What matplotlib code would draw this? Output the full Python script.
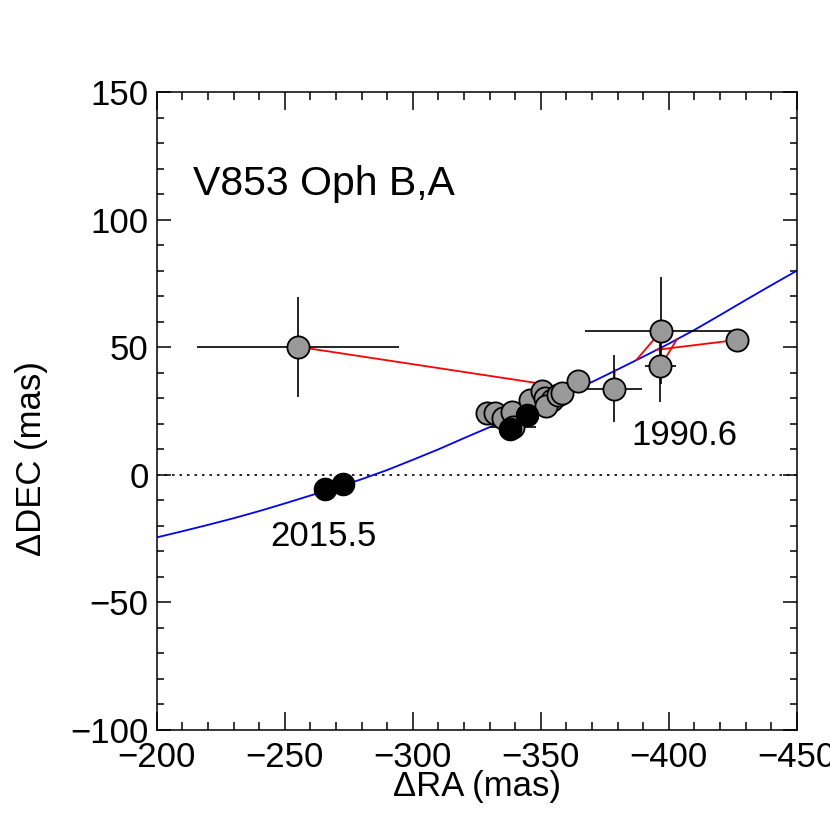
import matplotlib
matplotlib.use("Agg")
import matplotlib.pyplot as plt
from matplotlib.ticker import MultipleLocator

plt.rcParams["font.family"] = ["Liberation Sans", "DejaVu Sans"]

# orbit track (blue)
orbit_ra = [-200, -210, -220, -230, -240, -250, -260, -270, -280, -290, -300, -310, -320,
            -330, -340, -350, -360, -370, -380, -390, -400, -410, -420, -430, -440, -450]
orbit_dec = [-24.5, -22.1, -19.6, -17.0, -14.2, -11.2, -8.1, -5.0, -1.7, 1.9, 5.9, 10.0, 14.4,
             18.7, 23.1, 27.5, 32.0, 36.4, 41.3, 46.3, 51.4, 56.8, 62.6, 68.5, 74.3, 80.0]

# older measurements (grey)
gray_ra = [-329.0, -332.0, -335.2, -338.6, -339.1, -345.7, -350.3, -351.6, -354.2, -352.2,
           -356.6, -358.1, -364.6, -378.6, -397.1, -396.7, -426.8, -255.1]
gray_dec = [24.4, 24.2, 22.4, 24.8, 18.8, 29.4, 32.7, 30.2, 29.4, 26.8,
            31.4, 32.0, 36.6, 33.8, 56.5, 42.5, 52.9, 50.2]
gray_ra_err_lo = [9.5, 0, 0, 0, 9, 0, 0, 0, 0, 0, 0, 0, 0, 11, 30, 6, 0, 39.5]
gray_ra_err_hi = [0, 0, 0, 0, 9, 0, 0, 0, 0, 0, 0, 0, 0, 30, 30, 6, 0, 39.5]
gray_dec_err = [4, 0, 0, 0, 0, 0, 0, 0, 0, 0, 0, 0, 0, 13, 21, 14, 0, 19.6]

# recent measurements (black)
black_ra = [-265.6, -272.7, -337.9, -344.6]
black_dec = [-5.5, -3.5, 17.9, 23.5]

# residual lines: observed -> predicted
res_obs_ra = [-255.1, -378.6, -397.1, -396.7, -426.8]
res_obs_dec = [50.2, 33.8, 56.5, 42.5, 52.9]
res_pred_ra = [-347.7, -378.9, -387.4, -403.2, -395.2]
res_pred_dec = [36.1, 41.2, 45.1, 53.2, 49.0]

fig = plt.figure(figsize=(8.3, 8.3), dpi=100)
ax = fig.add_axes([0.189, 0.1205, 0.771, 0.7685])

ax.axhline(0, color="black", linestyle=(0, (1.5, 3)), linewidth=1.2, zorder=1)
ax.plot(orbit_ra, orbit_dec, color="blue", linewidth=1.3, zorder=2)

for xo, yo, xp, yp in zip(res_obs_ra, res_obs_dec, res_pred_ra, res_pred_dec):
    ax.plot([xo, xp], [yo, yp], color="red", linewidth=1.3, zorder=2)

ax.errorbar(gray_ra, gray_dec, xerr=[gray_ra_err_lo, gray_ra_err_hi], yerr=gray_dec_err,
            fmt="none", ecolor="black", elinewidth=1.2, capsize=0, zorder=3)
ax.plot(gray_ra, gray_dec, "o", markersize=16, markerfacecolor="#999999",
        markeredgecolor="black", markeredgewidth=1.3, linestyle="none", zorder=4)
ax.plot(black_ra, black_dec, "o", markersize=16, markerfacecolor="black",
        markeredgecolor="black", linestyle="none", zorder=5)

ax.text(-214, 114, "V853 Oph B,A", fontsize=29.5, ha="left", va="center")
ax.text(-265, -24, "2015.5", fontsize=25, ha="center", va="center")
ax.text(-406, 15.5, "1990.6", fontsize=25, ha="center", va="center")

ax.set_xlim(-200, -450)
ax.set_ylim(-100, 150)
ax.xaxis.set_major_locator(MultipleLocator(50))
ax.xaxis.set_minor_locator(MultipleLocator(10))
ax.yaxis.set_major_locator(MultipleLocator(50))
ax.yaxis.set_minor_locator(MultipleLocator(10))
ax.tick_params(which="both", direction="in", top=True, right=True, width=1.1, labelsize=25)
ax.tick_params(axis="x", which="major", length=13, pad=8)
ax.tick_params(axis="x", which="minor", length=6)
ax.tick_params(axis="y", which="major", length=10, pad=6)
ax.tick_params(axis="y", which="minor", length=5)
for s in ax.spines.values():
    s.set_linewidth(1.1)

ax.set_xlabel("ΔRA (mas)", fontsize=25, labelpad=-3)
ax.set_ylabel("ΔDEC (mas)", fontsize=25, labelpad=4)
ax.yaxis.set_label_coords(-0.17, 0.425)

fig.savefig("out.png", dpi=100)
